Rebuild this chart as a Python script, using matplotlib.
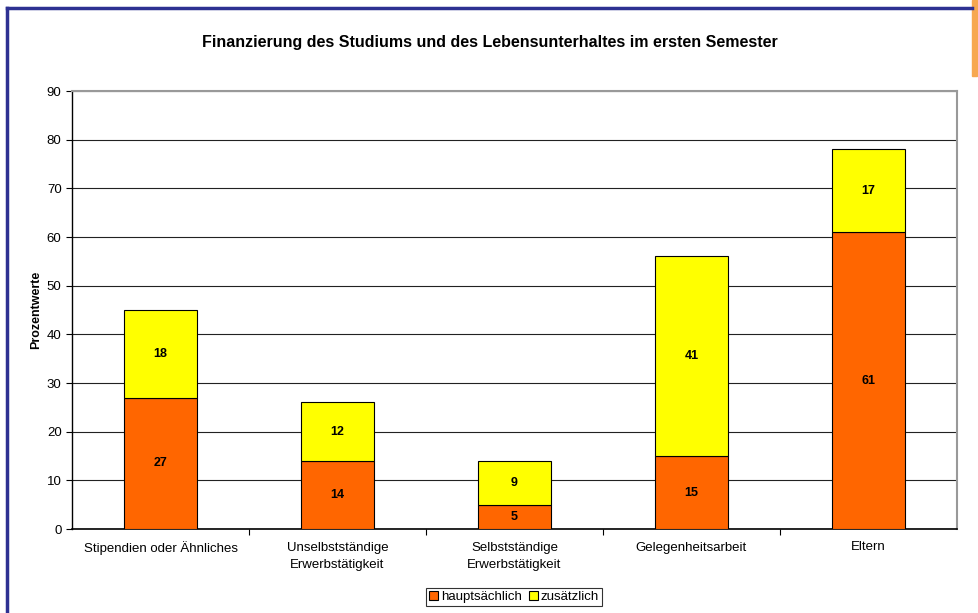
import matplotlib.pyplot as plt
import numpy as np
from matplotlib.lines import Line2D
from matplotlib.patches import Rectangle

plt.rcParams['font.family'] = ['Liberation Sans', 'DejaVu Sans']

# Daten
kategorien = ['Stipendien oder Ähnliches', 'Unselbstständige\nErwerbstätigkeit',
              'Selbstständige\nErwerbstätigkeit', 'Gelegenheitsarbeit', 'Eltern']
hauptsaechlich = [27, 14, 5, 15, 61]
zusaetzlich = [18, 12, 9, 41, 17]
y_ticks = [0, 10, 20, 30, 40, 50, 60, 70, 80, 90]

fig = plt.figure(figsize=(9.79, 6.13), dpi=100)
ax = fig.add_axes([72/979, 1-529/613, (957-72)/979, (529-91)/613])

x = np.arange(len(kategorien))
b1 = ax.bar(x, hauptsaechlich, width=0.41, color='#FF6600', edgecolor='black', linewidth=0.8,
            label='hauptsächlich', zorder=3)
b2 = ax.bar(x, zusaetzlich, width=0.41, bottom=hauptsaechlich, color='#FFFF00', edgecolor='black',
            linewidth=0.8, label='zusätzlich', zorder=3)

for i in range(len(kategorien)):
    ax.text(x[i], hauptsaechlich[i] / 2, str(hauptsaechlich[i]), ha='center', va='center',
            fontsize=9, fontweight='bold', zorder=4)
    ax.text(x[i], hauptsaechlich[i] + zusaetzlich[i] / 2, str(zusaetzlich[i]), ha='center',
            va='center', fontsize=9, fontweight='bold', zorder=4)

ax.set_xlim(-0.5, len(kategorien) - 0.5)
ax.set_ylim(0, 90)
ax.set_yticks(y_ticks)
ax.yaxis.grid(True, color='#222222', linewidth=0.8, zorder=0)
ax.tick_params(axis='y', labelsize=9.5, length=4, width=0.8, direction='out')
ax.set_xticks(x)
ax.set_xticklabels(kategorien, fontsize=9.5, linespacing=1.6, va='top')
ax.tick_params(axis='x', length=0, pad=9)
# Trennstriche zwischen den Kategorien
ax.set_xticks(np.arange(1, len(kategorien)) - 0.5, minor=True)
ax.tick_params(axis='x', which='minor', length=4, width=0.8)

ax.set_ylabel('Prozentwerte', fontsize=9, fontweight='bold', labelpad=3)

for s in ['top', 'right']:
    ax.spines[s].set_color('#999999')
    ax.spines[s].set_linewidth(1.5)
ax.spines['left'].set_linewidth(1)
ax.spines['bottom'].set_linewidth(1.2)

fig.text(0.5, 1 - 43/613, 'Finanzierung des Studiums und des Lebensunterhaltes im ersten Semester',
         ha='center', va='center', fontsize=11.5, fontweight='bold')

leg = fig.legend(handles=[b1, b2], loc='center', bbox_to_anchor=(514/979, 1 - 597/613), ncol=2,
                 fontsize=9.5, frameon=True, fancybox=False, edgecolor='black',
                 handlelength=0.7, handleheight=0.7, handletextpad=0.2, columnspacing=0.5,
                 borderpad=0.25, borderaxespad=0)
leg.get_frame().set_linewidth(0.8)

# Rahmen links und oben, oranger Balken rechts
fig.add_artist(Line2D([7/979, 7/979], [0, 1 - 8/613], color='#2E3192', linewidth=2.5))
fig.add_artist(Line2D([7/979, 972/979], [1 - 8/613, 1 - 8/613], color='#2E3192', linewidth=2.5))
fig.add_artist(Rectangle((972/979, 1 - 76/613), 5/979, 76/613, color='#F7A850',
                         transform=fig.transFigure))

fig.savefig('out.png', dpi=100)
